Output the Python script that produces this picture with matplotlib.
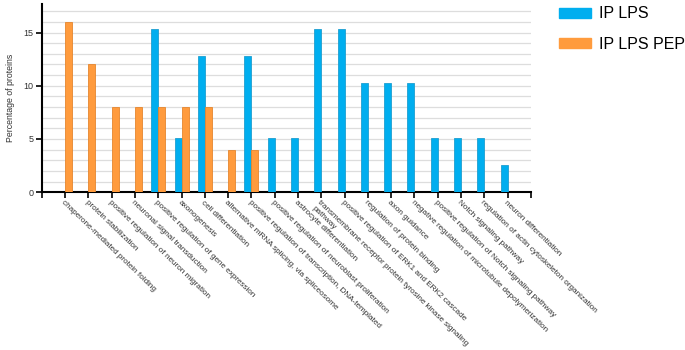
import numpy as np
import matplotlib
matplotlib.use("Agg")
import matplotlib.pyplot as plt
from matplotlib.patches import Patch

plt.rcParams['font.family'] = ['Liberation Sans', 'DejaVu Sans']

# GO terms (x categories)
terms = ["chaperone-mediated protein folding",
         "protein stabilization",
         "positive regulation of neuron migration",
         "neuronal signal transduction",
         "positive regulation of gene expression",
         "axonogenesis",
         "cell differentiation",
         "alternative mRNA splicing, via spliceosome",
         "positive regulation of transcription, DNA-templated",
         "positive regulation of neuroblast proliferation",
         "astrocyte differentiation",
         "transmembrane receptor protein tyrosine kinase signaling\npathway",
         "positive regulation of ERK1 and ERK2 cascade",
         "regulation of protein binding",
         "axon guidance",
         "negative regulation of microtubule depolymerization",
         "positive regulation of Notch signaling pathway",
         "Notch signaling pathway",
         "regulation of actin cytoskeleton organization",
         "neuron differentiation"]

# percentages
ip_lps = [0, 0, 0, 0, 15.38, 5.13, 12.82, 0, 12.82, 5.13, 5.13, 15.38, 15.38,
          10.26, 10.26, 10.26, 5.13, 5.13, 5.13, 2.56]
ip_lps_pep = [16, 12, 8, 8, 8, 8, 8, 4, 4, 0, 0, 0, 0, 0, 0, 0, 0, 0, 0, 0]

blue = "#00AEEF"
orange = "#FF9B3D"

fig = plt.figure(figsize=(6.85, 3.5), dpi=100)
ax = fig.add_axes([0.061, 0.451, 0.714, 0.538])

x = np.arange(len(terms))
w = 0.3
ax.bar(x - w/2, ip_lps, w, color=blue, edgecolor="#1E9FD0", linewidth=0.6, zorder=3)
ax.bar(x + w/2, ip_lps_pep, w, color=orange, edgecolor="#E5862E", linewidth=0.6, zorder=3)

ax.set_xlim(-1, len(terms))
ax.set_ylim(0, 17.7)

# light horizontal grid every 1 %
for g in range(1, 18):
    ax.axhline(g, color="#DDDDDD", linewidth=0.9, zorder=1)

ax.set_yticks([0, 5, 10, 15])
ax.set_yticklabels(["0", "5", "10", "15"], fontsize=6.5, color="#333333")
ax.set_xticks(x)
ax.set_xticks([-1, len(terms)], minor=True)
ax.set_xticklabels(terms, rotation=-44, ha="left", va="top",
                   rotation_mode="anchor", fontsize=5.9, color="#333333")
ax.tick_params(axis="x", which="both", direction="out", length=4, width=1.2, pad=1)
ax.tick_params(axis="y", direction="out", length=4, width=1.2, pad=2)

for s in ["top", "right"]:
    ax.spines[s].set_visible(False)
for s in ["left", "bottom"]:
    ax.spines[s].set_linewidth(1.5)

ax.set_ylabel("Percentage of proteins", fontsize=6.3, color="#333333", labelpad=6)

handles = [Patch(color=blue, label="IP LPS"), Patch(color=orange, label="IP LPS PEP")]
fig.legend(handles=handles, loc="upper left", bbox_to_anchor=(0.797, 1.018),
           frameon=False, fontsize=11.5, handlelength=2.0, handleheight=0.6,
           labelspacing=0.95, handletextpad=0.5, borderpad=0.3)

fig.savefig("out.png", dpi=100)
